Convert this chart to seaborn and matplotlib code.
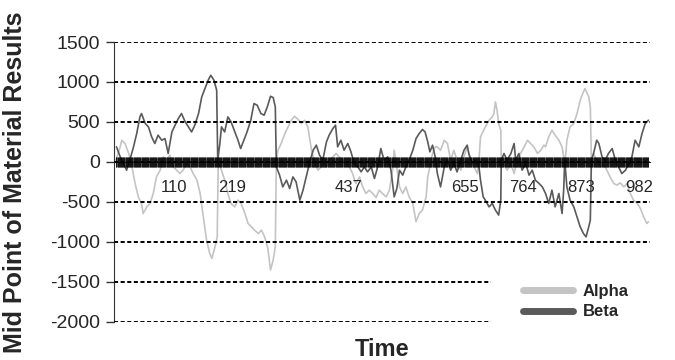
import matplotlib
matplotlib.use("Agg")
import matplotlib.pyplot as plt
from matplotlib.lines import Line2D
import numpy as np
import pandas as pd
import seaborn as sns

# values (time index, mid point)
alpha_t = [1, 9, 12, 18, 25, 31, 37, 43, 49, 52, 59, 65, 71, 77, 84, 90, 96, 102, 109, 115,
           121, 127, 134, 140, 146, 153, 159, 165, 171, 177, 181, 187, 191, 193, 199, 205, 211,
           217, 224, 230, 236, 243, 249, 255, 261, 268, 274, 280, 286, 291, 296, 300, 302, 305,
           311, 318, 324, 330, 336, 343, 349, 355, 361, 364, 368, 374, 380, 386, 393, 395, 401,
           408, 414, 420, 426, 433, 439, 445, 451, 458, 464, 470, 476, 483, 489, 495, 501, 508,
           514, 520, 523, 526, 533, 539, 545, 551, 558, 564, 570, 576, 583, 586, 590, 595, 600,
           604, 610, 617, 623, 629, 635, 641, 648, 654, 660, 666, 673, 679, 682, 685, 688, 694,
           701, 707, 710, 713, 716, 719, 723, 724, 729, 735, 742, 748, 754, 760, 767, 773, 779,
           785, 792, 798, 804, 807, 813, 819, 825, 832, 838, 841, 844, 847, 853, 860, 866, 872,
           878, 881, 888, 891, 893, 897, 903, 910, 916, 922, 928, 935, 941, 947, 954, 960, 966,
           972, 979, 985, 991, 997, 1000]
alpha_v = [21, 188, 271, 230, 105, -63, -271, -438, -521, -646, -563, -521, -396, -188, -104,
           63, 21, 84, -63, -104, -146, -104, -20, -63, -146, -229, -396, -688, -979, -1146,
           -1208, -1063, -938, 21, -104, -229, -396, -521, -563, -479, -521, -646, -771, -813,
           -854, -896, -854, -938, -1083, -1354, -1229, -1063, 21, 146, 230, 355, 438, 521, 571,
           530, 480, 521, 438, 313, 146, -20, -104, -63, 21, -63, 21, 63, 105, 63, 21, -20, -63,
           -146, -271, -188, -313, -396, -354, -396, -446, -354, -396, -438, -354, -104, 146, 21,
           -313, -396, -313, -438, -521, -750, -646, -604, -438, -188, -63, 105, 188, 188, 146,
           271, 230, 21, 146, 21, -104, 63, 188, 21, -63, -146, 21, 313, 355, 438, 521, 563, 605,
           750, 646, 480, 396, 21, -20, -104, -20, -146, 21, 105, 188, 271, 230, 188, 105, 146,
           209, 188, 313, 396, 334, 271, 188, 63, 21, 271, 438, 480, 605, 771, 875, 918, 813,
           688, 21, 105, 21, -63, -20, -104, -188, -271, -291, -262, -313, -271, -396, -479,
           -521, -583, -688, -771, -750]

beta_t = [2, 9, 15, 21, 27, 34, 40, 46, 49, 56, 62, 68, 74, 80, 87, 93, 99, 106, 112, 118, 124,
          131, 137, 143, 149, 156, 162, 168, 174, 179, 185, 190, 192, 196, 199, 205, 211, 217,
          224, 230, 235, 241, 247, 254, 260, 266, 273, 279, 285, 291, 296, 300, 302, 308, 314,
          321, 327, 333, 339, 346, 352, 358, 364, 371, 377, 383, 389, 396, 401, 408, 413, 417,
          423, 429, 436, 442, 448, 455, 461, 467, 473, 480, 486, 492, 498, 504, 511, 517, 523,
          528, 533, 539, 545, 551, 558, 564, 570, 576, 581, 586, 590, 595, 600, 604, 610, 617,
          623, 629, 635, 641, 648, 654, 660, 663, 669, 676, 682, 685, 690, 694, 701, 707, 713,
          719, 723, 724, 729, 735, 742, 748, 751, 757, 763, 770, 776, 782, 788, 795, 801, 807,
          813, 819, 825, 832, 838, 841, 843, 847, 853, 860, 866, 872, 878, 883, 888, 891, 893,
          897, 903, 907, 913, 919, 925, 932, 938, 944, 950, 957, 963, 969, 975, 982, 988, 994,
          1000]
beta_v = [188, 63, -20, -104, 21, 188, 355, 563, 605, 480, 438, 313, 230, 334, 271, 292, 105,
          375, 459, 542, 605, 500, 438, 375, 459, 605, 813, 918, 1021, 1084, 1021, 896, 21, 230,
          438, 375, 563, 500, 375, 271, 167, 271, 375, 521, 730, 709, 605, 584, 688, 821, 805,
          688, -63, -166, -313, -229, -333, -188, -250, -479, -354, -188, -20, 146, 209, 84, 21,
          250, 334, 417, 459, 188, 271, 146, 230, 125, -20, -63, -125, -63, -125, -63, -208, -63,
          167, 21, 63, -104, -438, -333, -104, -166, -63, 21, 146, 292, 355, 405, 375, 250, 125,
          209, 63, -146, -313, -63, 21, -104, -20, -125, 21, 146, 209, 105, -20, 21, -63, -229,
          -438, -479, -563, -521, -604, -666, -479, 21, 105, 21, 105, 230, 21, 105, -104, -20,
          -166, -104, -229, -271, -313, -396, -521, -354, -563, -396, -646, -354, 21, -313, -479,
          -563, -688, -813, -896, -938, -813, -729, 21, 105, 271, 230, 63, 21, 105, 167, 21, -63,
          -146, -104, -20, 63, 271, 188, 355, 480, 521]

series = ["Alpha", "Beta"]
colors = ["#c4c4c4", "#5a5a5a"]
label_ticks = [110, 219, 437, 655, 764, 873, 982]
y_ticks = [1500, 1000, 500, 0, -500, -1000, -1500, -2000]

df = pd.concat([
    pd.DataFrame({"Time": alpha_t, "Value": alpha_v, "Series": "Alpha"}),
    pd.DataFrame({"Time": beta_t, "Value": beta_v, "Series": "Beta"}),
])

sns.set_style("white")
plt.rcParams["font.family"] = ["Liberation Sans", "DejaVu Sans"]

fig = plt.figure(figsize=(6.75, 3.6), dpi=100)
ax = fig.add_axes([0.1689, 0.1064, 0.7941, 0.7769])

sns.lineplot(data=df, x="Time", y="Value", hue="Series", palette=dict(zip(series, colors)),
             estimator=None, sort=False, linewidth=1.2, legend=False, ax=ax)

ax.set_xlim(-2.6, 1003)
ax.set_ylim(-2000, 1500)
ax.set_yticks(y_ticks)
ax.set_yticklabels([str(v) for v in y_ticks], fontsize=14)
ax.yaxis.grid(True, color="black", linestyle=(0, (2.1, 1.3)), linewidth=1.4)
ax.set_axisbelow(False)

# category axis crossing at zero, with a tick per time step
ax.spines["bottom"].set_position(("data", 0))
ax.spines["top"].set_visible(False)
ax.spines["right"].set_visible(False)
ax.spines["left"].set_color("#333333")
ax.set_xticks(np.arange(1, 1001), minor=True)
ax.set_xticks(label_ticks)
ax.set_xticklabels([str(v) for v in label_ticks], fontsize=12)
ax.tick_params(axis="x", which="both", bottom=True, direction="inout", length=6.5,
               width=0.5, color="black", pad=9.5)
ax.tick_params(axis="y", direction="out", length=6, width=1, color="#333333",
               left=True, pad=4)

ax.set_xlabel("Time", fontsize=17, fontweight="bold")
ax.xaxis.set_label_coords(0.5, -0.06)
ax.set_ylabel("Mid Point of Material Results", fontsize=18, fontweight="bold")
ax.yaxis.set_label_coords(-0.163, 0.5)

handles = [Line2D([], [], color=c, lw=5, solid_capstyle="round") for c in colors]
leg = ax.legend(handles, series, loc="center left", bbox_to_anchor=(483 / 675, 1 - 301.5 / 360),
                bbox_transform=fig.transFigure, frameon=True, facecolor="white",
                edgecolor="white", framealpha=1, fancybox=False, borderpad=1.9,
                handlelength=3.0, handletextpad=0.6, labelspacing=0.35,
                prop={"size": 12, "weight": "bold"})

fig.savefig("out.png", dpi=100)
